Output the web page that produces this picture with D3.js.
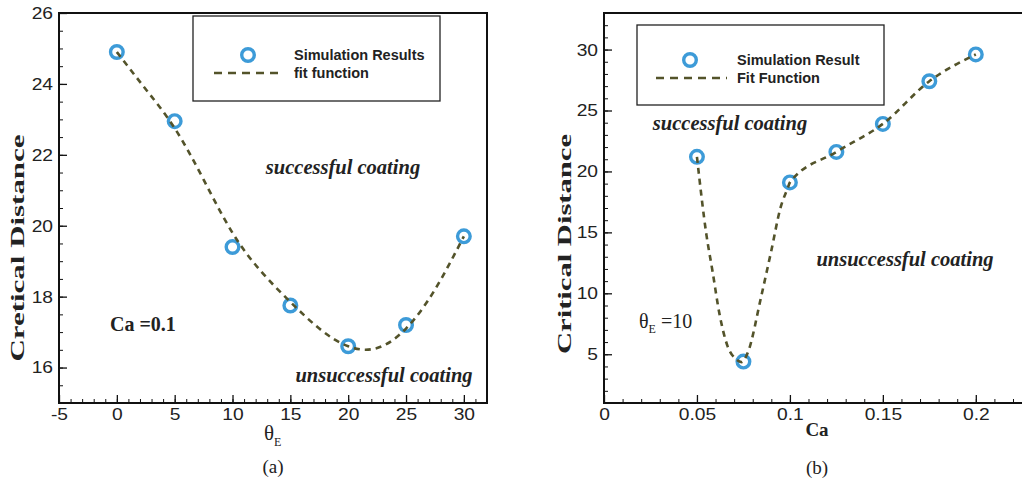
<!DOCTYPE html>
<html>
<head>
<meta charset="utf-8">
<script src="https://cdn.jsdelivr.net/npm/d3@7/dist/d3.min.js"></script>
<style>
  html, body { margin: 0; padding: 0; background: #fff; }
  svg { display: block; }
</style>
</head>
<body>
<svg id="chart" width="1022" height="485"></svg>
<script>
// ---------- Panel (a) data ----------
const thetaSim = [0, 5, 10, 15, 20, 25, 30];
const cdSimA   = [24.9, 22.95, 19.4, 17.75, 16.6, 17.2, 19.7];
const thetaFit = [0, 2.5, 5, 7.5, 10, 12.5, 15, 17.5, 20, 22.5, 25, 27.5, 30];
const cdFitA   = [24.9, 23.85, 22.75, 21.3, 19.8, 18.7, 17.85, 17.1, 16.6, 16.55, 17.1, 18.2, 19.7];
const xTicksA  = [-5, 0, 5, 10, 15, 20, 25, 30];
const yTicksA  = [16, 18, 20, 22, 24, 26];

// ---------- Panel (b) data ----------
const caSim  = [0.05, 0.075, 0.1, 0.125, 0.15, 0.175, 0.2];
const cdSimB = [21.2, 4.4, 19.1, 21.6, 23.9, 27.4, 29.6];
const caFit  = [0.05, 0.055, 0.0585, 0.062, 0.0665, 0.071, 0.074, 0.0775, 0.0845, 0.09, 0.095, 0.099, 0.1, 0.125, 0.15, 0.175, 0.2];
const cdFitB = [21.2, 14.9, 11.7, 8.4, 5.65, 4.6, 4.35, 5.2, 9.7, 13.5, 17.05, 18.7, 19.1, 21.6, 23.9, 27.4, 29.6];
const xTicksB = [0, 0.05, 0.1, 0.15, 0.2];
const yTicksB = [5, 10, 15, 20, 25, 30];

const MARK = "#3d9bd8";
const FIT = "#53532a";
const SANS = "'Liberation Sans', Arial, sans-serif";
const SERIF = "'Liberation Serif', 'Times New Roman', serif";

const svg = d3.select("#chart");

function widen(sel, k) {
  sel.each(function () {
    const w = this.getComputedTextLength();
    this.setAttribute("textLength", (w * k).toFixed(2));
    this.setAttribute("lengthAdjust", "spacingAndGlyphs");
  });
}

function panel(o) {
  const g = svg.append("g");
  const x = d3.scaleLinear().domain(o.xDom).range(o.xRange);
  const y = d3.scaleLinear().domain(o.yDom).range(o.yRange);

  // minor ticks
  g.append("g").attr("transform", `translate(0,${o.yRange[0]})`)
    .call(d3.axisBottom(x).tickValues(o.xMinor).tickSize(-4).tickSizeOuter(0).tickFormat(""))
    .call(s => s.select(".domain").remove())
    .call(s => s.selectAll("line").attr("stroke", "#111").attr("stroke-width", 1));
  g.append("g").attr("transform", `translate(${o.xRange[0]},0)`)
    .call(d3.axisLeft(y).tickValues(o.yMinor).tickSize(-4).tickSizeOuter(0).tickFormat(""))
    .call(s => s.select(".domain").remove())
    .call(s => s.selectAll("line").attr("stroke", "#111").attr("stroke-width", 1));

  // major ticks
  g.append("g").attr("transform", `translate(0,${o.yRange[0]})`)
    .call(d3.axisBottom(x).tickValues(o.xTicks).tickSize(-8).tickSizeOuter(0).tickPadding(5).tickFormat(o.xFmt))
    .call(s => s.select(".domain").remove())
    .call(s => s.selectAll("line").attr("stroke", "#111").attr("stroke-width", 1.3))
    .call(s => s.selectAll("text").attr("font-family", SANS).attr("font-size", 17).attr("fill", "#222"))
    .call(s => widen(s.selectAll("text"), 1.13));
  g.append("g").attr("transform", `translate(${o.xRange[0]},0)`)
    .call(d3.axisLeft(y).tickValues(o.yTicks).tickSize(-8).tickSizeOuter(0).tickPadding(6).tickFormat(d => String(d)))
    .call(s => s.select(".domain").remove())
    .call(s => s.selectAll("line").attr("stroke", "#111").attr("stroke-width", 1.3))
    .call(s => s.selectAll("text").attr("font-family", SANS).attr("font-size", 17).attr("fill", "#222"))
    .call(s => widen(s.selectAll("text"), 1.13));

  // frame
  g.append("rect")
    .attr("x", o.xRange[0]).attr("y", o.yRange[1])
    .attr("width", o.xRange[1] - o.xRange[0]).attr("height", o.yRange[0] - o.yRange[1])
    .attr("fill", "none").attr("stroke", "#111").attr("stroke-width", 2);

  // markers
  g.append("g").selectAll("circle").data(o.simX.map((d, i) => [d, o.simY[i]])).join("circle")
    .attr("cx", d => x(d[0])).attr("cy", d => y(d[1])).attr("r", 6.3)
    .attr("fill", "none").attr("stroke", MARK).attr("stroke-width", 3.4);

  // fit line
  const line = d3.line().x(d => x(d[0])).y(d => y(d[1])).curve(o.curve);
  g.append("path").datum(o.fitX.map((d, i) => [d, o.fitY[i]]))
    .attr("d", line).attr("fill", "none").attr("stroke", FIT)
    .attr("stroke-width", 2.6).attr("stroke-dasharray", "6,5");

  // legend
  const L = o.legend;
  g.append("rect").attr("x", L.x).attr("y", L.y).attr("width", L.w).attr("height", L.h)
    .attr("fill", "#fff").attr("stroke", "#222").attr("stroke-width", 1.3);
  g.append("circle").attr("cx", L.mx).attr("cy", L.my).attr("r", 6.3)
    .attr("fill", "none").attr("stroke", MARK).attr("stroke-width", 3.4);
  g.append("line").attr("x1", L.lx1).attr("x2", L.lx2).attr("y1", L.ly).attr("y2", L.ly)
    .attr("stroke", FIT).attr("stroke-width", 2.6).attr("stroke-dasharray", "8,6");
  g.append("text").attr("x", L.tx).attr("y", L.t1y).text(L.t1)
    .attr("font-family", SANS).attr("font-size", 14.5).attr("font-weight", "bold").attr("fill", "#222");
  g.append("text").attr("x", L.tx).attr("y", L.t2y).text(L.t2)
    .attr("font-family", SANS).attr("font-size", 14.5).attr("font-weight", "bold").attr("fill", "#222");

  // y label
  g.append("text").attr("transform", `translate(${o.yLabX},${o.yLabY}) rotate(-90)`)
    .attr("text-anchor", "middle").text(o.yLabel)
    .attr("textLength", o.yLabLen).attr("lengthAdjust", "spacingAndGlyphs")
    .attr("font-family", SERIF).attr("font-size", 19).attr("font-weight", "bold").attr("fill", "#222");

  // annotations
  o.notes.forEach(n => {
    g.append("text").attr("x", n.x).attr("y", n.y).attr("text-anchor", "middle").text(n.t)
      .attr("font-family", SERIF).attr("font-size", 20.5).attr("font-weight", "bold")
      .attr("font-style", "italic").attr("fill", "#222");
  });
  return g;
}

const gA = panel({
  xDom: [-5, 32], xRange: [59, 487], yDom: [15, 26], yRange: [403, 13],
  xTicks: xTicksA, yTicks: yTicksA, xFmt: d => String(d),
  xMinor: d3.range(-5, 32.01, 1), yMinor: d3.range(15, 26.01, 0.5),
  simX: thetaSim, simY: cdSimA, fitX: thetaFit, fitY: cdFitA, curve: d3.curveNatural,
  legend: { x: 193, y: 16, w: 247, h: 85, mx: 248, my: 55, lx1: 214, lx2: 284, ly: 73,
            tx: 294, t1y: 60, t2y: 78, t1: "Simulation Results", t2: "fit function" },
  yLabel: "Cretical Distance", yLabX: 24, yLabY: 248, yLabLen: 227,
  notes: [ { x: 343, y: 174, t: "successful coating" }, { x: 384, y: 382, t: "unsuccessful coating" } ]
});

const gB = panel({
  xDom: [0, 0.227], xRange: [604, 1026], yDom: [1, 33], yRange: [403, 13],
  xTicks: xTicksB, yTicks: yTicksB, xFmt: d => (d === 0 ? "0" : String(+d.toFixed(2))),
  xMinor: d3.range(0, 0.2271, 0.01), yMinor: d3.range(1, 33.01, 1),
  simX: caSim, simY: cdSimB, fitX: caFit, fitY: cdFitB, curve: d3.curveMonotoneX,
  legend: { x: 637, y: 25, w: 247, h: 80, mx: 690, my: 60, lx1: 656, lx2: 727, ly: 78,
            tx: 737, t1y: 65, t2y: 83, t1: "Simulation Result", t2: "Fit Function" },
  yLabel: "Critical Distance", yLabX: 571, yLabY: 244, yLabLen: 220,
  notes: [ { x: 730, y: 130, t: "successful coating" }, { x: 905, y: 266, t: "unsuccessful coating" } ]
});

// Ca = 0.1 note (panel a)
svg.append("text").attr("x", 110).attr("y", 331).text("Ca =0.1")
  .attr("font-family", SERIF).attr("font-size", 20).attr("font-weight", "bold").attr("fill", "#222");

// theta_E = 10 note (panel b)
const tn = svg.append("text").attr("x", 639).attr("y", 328)
  .attr("font-family", SERIF).attr("font-size", 20).attr("fill", "#222");
tn.append("tspan").text("θ");
tn.append("tspan").text("E").attr("font-size", 12).attr("dy", 5);
tn.append("tspan").text(" =10").attr("dy", -5);

// x labels
const xa = svg.append("text").attr("x", 264).attr("y", 440)
  .attr("font-family", SERIF).attr("font-size", 21).attr("fill", "#222");
xa.append("tspan").text("θ");
xa.append("tspan").text("E").attr("font-size", 12).attr("dy", 6);

svg.append("text").attr("x", 817).attr("y", 436).attr("text-anchor", "middle").text("Ca")
  .attr("font-family", SERIF).attr("font-size", 19).attr("font-weight", "bold").attr("fill", "#222");

// panel captions
svg.append("text").attr("x", 273).attr("y", 473).attr("text-anchor", "middle").text("(a)")
  .attr("font-family", SERIF).attr("font-size", 19).attr("fill", "#222");
svg.append("text").attr("x", 817).attr("y", 474).attr("text-anchor", "middle").text("(b)")
  .attr("font-family", SERIF).attr("font-size", 19).attr("fill", "#222");
</script>
</body>
</html>
